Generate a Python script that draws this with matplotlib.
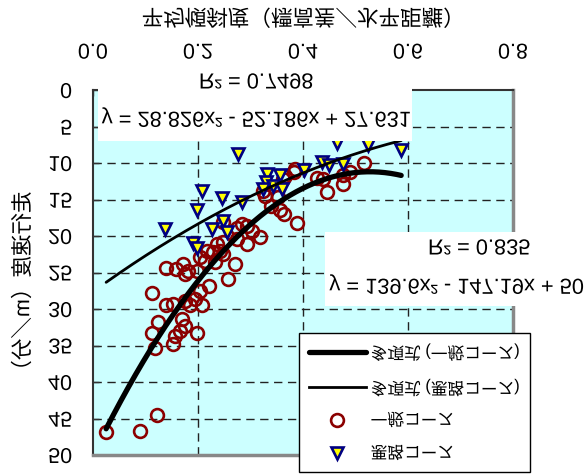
import matplotlib
matplotlib.use("Agg")
import matplotlib.pyplot as plt
import numpy as np
from matplotlib.patheffects import AbstractPathEffect
from matplotlib.transforms import Affine2D
from matplotlib.patches import Rectangle
from matplotlib.lines import Line2D

# ---------------- data ----------------
slope_general = [0.025, 0.090, 0.121,
                 0.112, 0.139, 0.152, 0.124, 0.112, 0.118, 0.152, 0.156, 0.166, 0.175, 0.169,
                 0.198, 0.185, 0.207, 0.194, 0.175, 0.204,
                 0.139, 0.159, 0.171, 0.181, 0.175, 0.198, 0.220, 0.258, 0.270, 0.213, 0.232,
                 0.229, 0.217, 0.242, 0.204, 0.248,
                 0.236, 0.248, 0.274, 0.293, 0.318, 0.248, 0.274, 0.302, 0.283, 0.293,
                 0.324, 0.328, 0.352, 0.339, 0.356, 0.363, 0.388, 0.362,
                 0.366, 0.382, 0.385, 0.426, 0.439, 0.445, 0.477, 0.477, 0.490, 0.517]
speed_general = [46.8, 46.7, 44.5,
                 27.8, 29.4, 29.3, 31.8, 33.3, 35.3, 34.8, 33.7, 33.0, 32.3, 31.4,
                 33.3, 29.4, 29.4, 28.6, 28.9, 27.5,
                 24.4, 24.5, 23.8, 24.8, 25.2, 24.8, 26.8, 25.9, 23.9, 23.4, 23.6,
                 22.2, 22.0, 22.0, 22.9, 22.5,
                 21.1, 20.8, 20.4, 21.1, 20.2, 18.1, 18.9, 19.3, 18.4, 18.6,
                 13.8, 14.5, 14.7, 15.9, 16.5, 17.0, 18.2, 12.2,
                 11.8, 11.3, 10.8, 12.0, 12.2, 14.0, 11.7, 12.9, 11.2, 10.0]

slope_rough = [0.277, 0.465, 0.524, 0.587,
               0.401, 0.436, 0.449, 0.476,
               0.331, 0.357, 0.330, 0.343, 0.360, 0.324,
               0.207, 0.245, 0.283, 0.198,
               0.248, 0.226, 0.255, 0.137, 0.191, 0.199]
speed_rough = [8.8, 7.3, 7.6, 8.2,
               10.9, 9.9, 10.3, 10.1,
               11.5, 11.7, 12.6, 13.1, 13.5, 13.6,
               13.8, 14.8, 15.4, 16.5,
               18.0, 19.1, 19.5, 19.1, 21.0, 21.6]

coef_general = [139.6, -147.19, 50.0]     # y = a x^2 + b x + c
coef_rough = [28.826, -52.186, 27.631]
r2_general = "0.835"
r2_rough = "0.7498"

x_ticks = [0.0, 0.2, 0.4, 0.6, 0.8]
x_tick_labels = ["0.0", "0.2", "0.4", "0.6", "0.8"]
y_ticks = [0, 5, 10, 15, 20, 25, 30, 35, 40, 45, 50]
y_tick_labels = [str(v) for v in y_ticks]

x_label = "平均傾斜度（標高差／水平距離）"
y_label = "走行速度（m／分）"
name_general = "一般コース"
name_rough = "悪路コース"
trend_general = "多項式 (一般コース)"
trend_rough = "多項式 (悪路コース)"
eq_general = "y = 139.6x² - 147.19x + 50"
eq_rough = "y = 28.826x² - 52.186x + 27.631"

# ---------------- style ----------------
plt.rcParams['font.family'] = ['Liberation Sans', 'Noto Sans CJK JP', 'DejaVu Sans']

W, H = 588, 477


class VFlip(AbstractPathEffect):
    """Draw the glyphs mirrored top-to-bottom about their own centre."""
    def draw_path(self, renderer, gc, tpath, affine, rgbFace=None):
        bb = tpath.get_extents(affine)
        cy = 0.5 * (bb.y0 + bb.y1)
        flip = Affine2D().translate(0, -cy).scale(1, -1).translate(0, cy)
        renderer.draw_path(gc, tpath, affine + flip, rgbFace)


FLIP = [VFlip()]

fig = plt.figure(figsize=(W / 100, H / 100), dpi=100)
fig.patch.set_facecolor('white')

ax_l, ax_r, ax_t, ax_b = 93, 513, 91, 456
ax = fig.add_axes([ax_l / W, (H - ax_b) / H, (ax_r - ax_l) / W, (ax_b - ax_t) / H])
ax.set_facecolor('#CCFFFF')
ax.set_xlim(0, 0.8)
ax.set_ylim(50, 0)

# gridlines (inner ones only)
for xv in x_ticks[1:-1]:
    ax.axvline(xv, color='#222222', lw=1.0, ls=(0, (6, 4)), zorder=1)
for yv in y_ticks[1:-1]:
    ax.axhline(yv, color='#222222', lw=1.0, ls=(0, (6, 4)), zorder=1)

# data series
ax.plot(slope_general, speed_general, ls='none', marker='o', ms=9.2, mew=1.9,
        mec='#8B0000', mfc='none', zorder=3)
ax.plot(slope_rough, speed_rough, ls='none', marker='v', ms=9.0, mew=1.9,
        mec='#000080', mfc='#FFFF00', zorder=4)

all_x = slope_general + slope_rough
xs = np.linspace(min(all_x), max(all_x), 200)
ax.plot(xs, np.polyval(coef_general, xs), color='black', lw=3.8,
        solid_capstyle='round', zorder=5)
ax.plot(xs, np.polyval(coef_rough, xs), color='black', lw=2.0,
        solid_capstyle='round', zorder=5)

# spines
for s in ('left', 'top'):
    ax.spines[s].set_color('#333333')
    ax.spines[s].set_linewidth(1.5)
for s in ('right', 'bottom'):
    ax.spines[s].set_color('#888888')
    ax.spines[s].set_linewidth(2.5)

# ticks
ax.xaxis.tick_top()
ax.xaxis.set_label_position('top')
ax.set_xticks(x_ticks, x_tick_labels)
ax.set_yticks(y_ticks, y_tick_labels)
ax.tick_params(axis='x', direction='in', length=4, width=1, color='#333333',
               labelsize=15.5, pad=19)
ax.tick_params(axis='y', direction='in', length=4, width=1, color='#333333',
               labelsize=15.5, pad=15)
for t in ax.xaxis.get_major_ticks() + ax.yaxis.get_major_ticks():
    t.label1.set_path_effects(FLIP)
    t.label2.set_path_effects(FLIP)

ax.set_xlabel(x_label, fontsize=15.5, labelpad=12)
ax.set_ylabel(y_label, fontsize=15.5, labelpad=10)
ax.xaxis.label.set_path_effects(FLIP)
ax.yaxis.label.set_path_effects(FLIP)

# legend
h1 = Line2D([], [], color='black', lw=3.8, solid_capstyle='round')
h2 = Line2D([], [], color='black', lw=2.0)
h3 = Line2D([], [], ls='none', marker='o', ms=9.2, mew=1.9, mec='#8B0000', mfc='none')
h4 = Line2D([], [], ls='none', marker='v', ms=9.0, mew=1.9, mec='#000080', mfc='#FFFF00')
leg = ax.legend([h1, h2, h3, h4], [trend_general, trend_rough, name_general, name_rough],
                loc='upper left', bbox_to_anchor=(299 / W, (H - 334) / H),
                bbox_transform=fig.transFigure, fontsize=12, frameon=True,
                fancybox=False, shadow=False, framealpha=1, edgecolor='black',
                borderpad=0.6, labelspacing=1.08, handlelength=3.4,
                handletextpad=0.3, borderaxespad=0)
leg.get_frame().set_linewidth(1.0)
leg.set_zorder(10)
for t in leg.get_texts():
    t.set_path_effects(FLIP)

# equation label boxes (white backgrounds)
fig.add_artist(Rectangle((98 / W, (H - 142) / H), (412 - 98) / W, (142 - 72) / H,
                         transform=fig.transFigure, facecolor='white',
                         edgecolor='none', zorder=5))
fig.add_artist(Rectangle((325 / W, (H - 307) / H), (587 - 325) / W, (307 - 233) / H,
                         transform=fig.transFigure, facecolor='white',
                         edgecolor='none', zorder=5))

t1 = fig.text(256 / W, (H - 84) / H, "R² = " + r2_rough, ha='center', va='center',
              fontsize=15.7, zorder=6)
t2 = fig.text(256 / W, (H - 118) / H, eq_rough, ha='center', va='center',
              fontsize=15.7, zorder=6)
t3 = fig.text(479 / W, (H - 250) / H, "R² = " + r2_general, ha='center', va='center',
              fontsize=15.7, zorder=6)
t4 = fig.text(456 / W, (H - 285) / H, eq_general, ha='center', va='center',
              fontsize=15.7, zorder=6)
for t in (t1, t2, t3, t4):
    t.set_path_effects(FLIP)

fig.savefig("out.png", dpi=100, facecolor='white')
